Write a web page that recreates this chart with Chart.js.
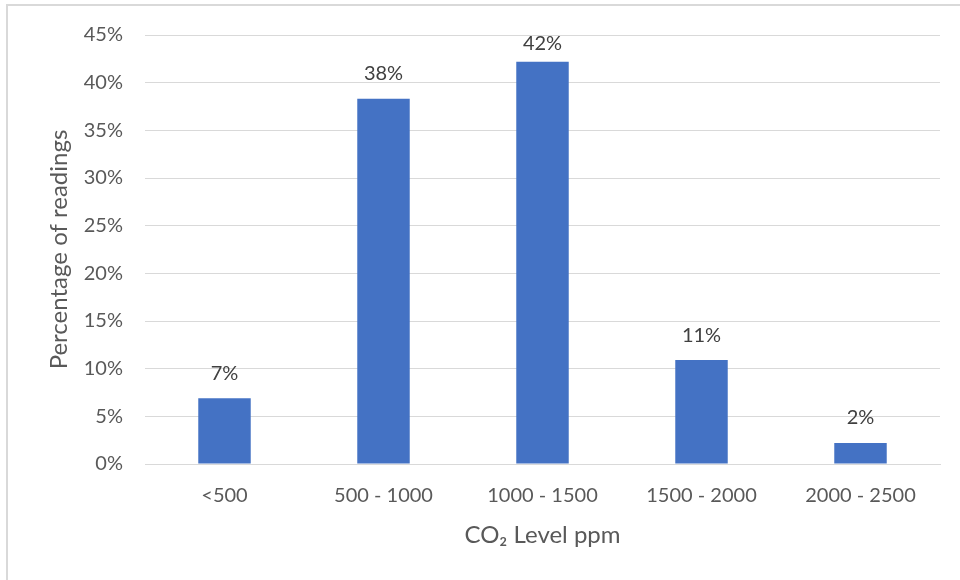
<!DOCTYPE html>
<html>
<head>
<meta charset="utf-8">
<script src="https://cdn.jsdelivr.net/npm/chart.js@4"></script>
<style>
  html, body { margin: 0; padding: 0; background: #ffffff; }
  #wrap { position: relative; width: 960px; height: 580px; overflow: hidden; }
  #frame { position: absolute; left: 6px; top: 4px; width: 1000px; height: 1000px;
           border-top: 2px solid #d9d9d9; border-left: 2px solid #d9d9d9; pointer-events: none; }
  canvas { position: absolute; left: 0; top: 0; }
</style>
</head>
<body>
<div id="wrap">
  <canvas id="c" width="960" height="580"></canvas>
  <div id="frame"></div>
</div>
<script>
const categories = ['<500', '500 - 1000', '1000 - 1500', '1500 - 2000', '2000 - 2500'];
const shares = [0.069, 0.383, 0.422, 0.109, 0.022];
const yAxisTitle = 'Percentage of readings';
const xAxisTitle = 'CO\u2082 Level ppm';

const FONT = 'Lato, "Open Sans", sans-serif';
const TEXT = '#595959';

const dataLabels = {
  id: 'dataLabels',
  afterDatasetsDraw(chart) {
    const ctx = chart.ctx;
    const meta = chart.getDatasetMeta(0);
    ctx.save();
    ctx.font = '20px ' + FONT;
    ctx.fillStyle = '#404040';
    ctx.textAlign = 'center';
    ctx.textBaseline = 'middle';
    meta.data.forEach((bar, i) => {
      const v = chart.data.datasets[0].data[i];
      const y = Math.max(bar.y - 25, chart.chartArea.top + 9);
      ctx.fillText(Math.round(v * 100) + '%', bar.x, y);
    });
    ctx.restore();
  }
};

new Chart(document.getElementById('c'), {
  type: 'bar',
  data: {
    labels: categories,
    datasets: [{
      data: shares,
      backgroundColor: '#4472C4',
      borderWidth: 0,
      barPercentage: 0.33,
      categoryPercentage: 1.0
    }]
  },
  options: {
    responsive: false,
    animation: false,
    devicePixelRatio: 1,
    layout: { padding: { left: 0, right: 20, top: 35, bottom: 0 } },
    plugins: { legend: { display: false }, tooltip: { enabled: false } },
    scales: {
      x: {
        grid: { display: false, drawTicks: false },
        border: { display: true, color: '#d9d9d9', width: 1 },
        ticks: { color: TEXT, font: { family: FONT, size: 20 }, padding: 20, maxRotation: 0 },
        title: { display: true, text: xAxisTitle, color: TEXT,
                 font: { family: FONT, size: 24 }, padding: { top: 0, bottom: 30 } },
        afterFit(s) { s.height = 116; }
      },
      y: {
        min: 0, max: 0.45,
        grid: { color: '#d9d9d9', lineWidth: 1, drawTicks: false },
        border: { display: false },
        ticks: {
          stepSize: 0.05, color: TEXT, font: { family: FONT, size: 20 }, padding: 22,
          callback: v => Math.round(v * 100) + '%'
        },
        title: { display: true, text: yAxisTitle, color: TEXT,
                 font: { family: FONT, size: 24 }, padding: { top: 45, bottom: 0 } },
        afterFit(s) { s.width = 145; }
      }
    }
  },
  plugins: [dataLabels]
});
</script>
</body>
</html>
